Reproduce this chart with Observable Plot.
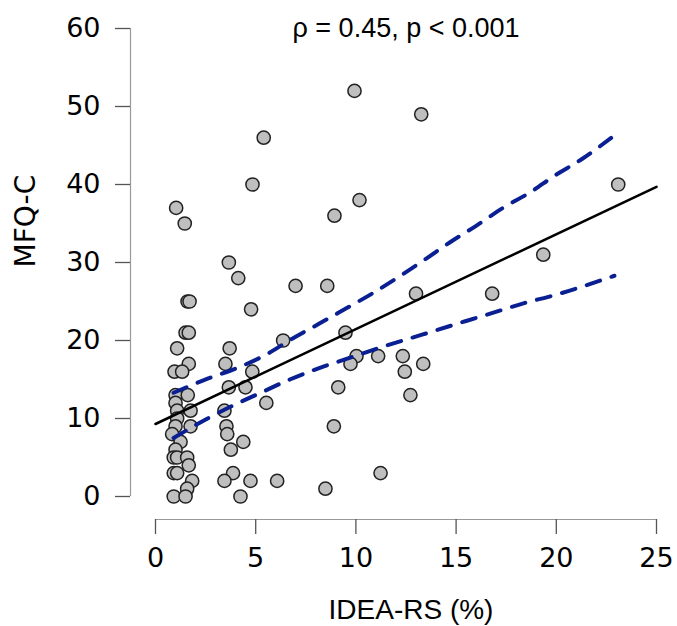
<!DOCTYPE html>
<html>
<head>
<meta charset="utf-8">
<script src="https://cdn.jsdelivr.net/npm/d3@7"></script>
<script src="https://cdn.jsdelivr.net/npm/@observablehq/plot@0.6"></script>
<style>
  html, body { margin: 0; padding: 0; background: #fff; }
  #chart { width: 677px; height: 626px; }
</style>
</head>
<body>
<div id="chart"></div>
<script>
// Scatter data: IDEA-RS (%) and MFQ-C
const ideaRS = [
  1.03, 1.46, 1.60, 1.70, 1.50, 1.66, 1.08, 1.66, 0.95, 1.33,
  1.00, 1.61, 1.00, 1.08, 1.75, 1.08, 1.00, 1.75, 0.83, 1.25,
  1.00, 0.91, 1.08, 1.58, 1.66, 0.91, 1.08, 1.83, 1.58, 0.91, 1.50,
  3.66, 4.13, 4.77, 4.84, 5.40, 3.70, 3.49, 4.83, 3.66, 4.49,
  5.53, 3.44, 3.54, 3.58, 4.38, 3.76, 3.87, 3.44, 4.74, 4.24,
  6.07, 6.37, 6.99,
  8.57, 8.93, 9.93, 10.18, 13.26, 9.48, 10.03, 9.73, 11.11, 9.12,
  8.90, 11.23, 8.48, 12.34, 12.44, 13.36, 12.72, 13.00, 16.80, 19.35, 23.09
];
const mfqC = [
  37, 35, 25, 25, 21, 21, 19, 17, 16, 16,
  13, 13, 12, 11, 11, 10, 9, 9, 8, 7,
  6, 5, 5, 5, 4, 3, 3, 2, 1, 0, 0,
  30, 28, 24, 40, 46, 19, 17, 16, 14, 14,
  12, 11, 9, 8, 7, 6, 3, 2, 2, 0,
  2, 20, 27,
  27, 36, 52, 38, 49, 21, 18, 17, 18, 14,
  9, 3, 1, 18, 16, 17, 13, 26, 26, 31, 40
];

// Fitted line (end points)
const fitX = [0, 25];
const fitY = [9.3, 39.7];

// 95% confidence band
const upperX = [0.9, 2.6, 4.1, 5.6, 6.8, 8.2, 9.5, 10.8, 12.1, 13.4, 14.7, 16.0, 17.4, 18.7, 19.9, 21.3, 22.9];
const upperY = [13.3, 15.1, 16.5, 18.3, 20.2, 22.2, 24.1, 26.0, 28.1, 30.3, 32.6, 34.7, 37.1, 39.0, 41.1, 43.3, 46.3];
const lowerX = [0.9, 2.6, 3.9, 5.25, 6.7, 8.2, 9.6, 11.1, 12.6, 14.0, 15.5, 16.9, 18.4, 19.9, 21.4, 22.9];
const lowerY = [7.5, 10.0, 11.7, 13.3, 15.0, 16.5, 17.7, 19.0, 20.2, 21.3, 22.5, 23.6, 24.8, 25.8, 27.0, 28.3];

const xTicks = [0, 5, 10, 15, 20, 25];
const yTicks = [0, 10, 20, 30, 40, 50, 60];

const titleText = "ρ = 0.45, p < 0.001";
const xLabel = "IDEA-RS (%)";
const yLabel = "MFQ-C";

const points = ideaRS.map((x, i) => ({x, y: mfqC[i]}));
const fit = fitX.map((x, i) => ({x, y: fitY[i]}));
const upper = upperX.map((x, i) => ({x, y: upperY[i]}));
const lower = lowerX.map((x, i) => ({x, y: lowerY[i]}));

const tickFont = "DejaVu Sans";
const textFont = "Liberation Sans, Arial, sans-serif";
const bandColor = "#0a1f91";

const chart = Plot.plot({
  width: 677,
  height: 626,
  marginLeft: 155,
  marginRight: 21,
  marginTop: 28,
  marginBottom: 130,
  style: {fontFamily: tickFont, fontSize: "27px", background: "#fff", color: "#000", overflow: "visible"},
  x: {domain: [0, 25]},
  y: {domain: [0, 60]},
  marks: [
    // axis lines (offset from the data region, R style)
    Plot.ruleX([0], {y1: 0, y2: 60, dx: -25, stroke: "#999", strokeWidth: 1.2}),
    Plot.ruleY([0], {x1: 0, x2: 25, dy: 23, stroke: "#999", strokeWidth: 1.2}),
    Plot.axisY({ticks: yTicks, tickFormat: d => String(d), dx: -25, tickSize: 15, tickPadding: 15,
      stroke: "#555", strokeWidth: 1.3, fill: "#000", fontSize: 27, fontFamily: tickFont, label: null}),
    Plot.axisX({ticks: xTicks, tickFormat: d => String(d), dy: 23, tickSize: 15, tickPadding: 13,
      stroke: "#555", strokeWidth: 1.3, fill: "#000", fontSize: 27, fontFamily: tickFont, label: null}),
    // points
    Plot.dot(points, {x: "x", y: "y", r: 6.6, fill: "#bfbfbf", stroke: "#222", strokeWidth: 1.5}),
    // fitted line and confidence band
    Plot.line(fit, {x: "x", y: "y", stroke: "#000", strokeWidth: 2.6}),
    Plot.line(upper, {x: "x", y: "y", stroke: bandColor, strokeWidth: 4, strokeDasharray: "14,12", curve: "monotone-x"}),
    Plot.line(lower, {x: "x", y: "y", stroke: bandColor, strokeWidth: 4, strokeDasharray: "14,12", curve: "monotone-x"}),
    // texts
    Plot.text([titleText], {frameAnchor: "top", lineAnchor: "middle", dy: 0, fontSize: 27, fontFamily: textFont, fill: "#000"}),
    Plot.text([xLabel], {frameAnchor: "bottom", lineAnchor: "bottom", dx: 5, dy: 122, fontSize: 28, fontFamily: textFont, fill: "#000"}),
    Plot.text([yLabel], {frameAnchor: "left", rotate: -90, lineAnchor: "middle", dx: -129, dy: 5, fontSize: 28, fontFamily: tickFont, fill: "#000"})
  ]
});
document.getElementById("chart").appendChild(chart);
</script>
</body>
</html>
